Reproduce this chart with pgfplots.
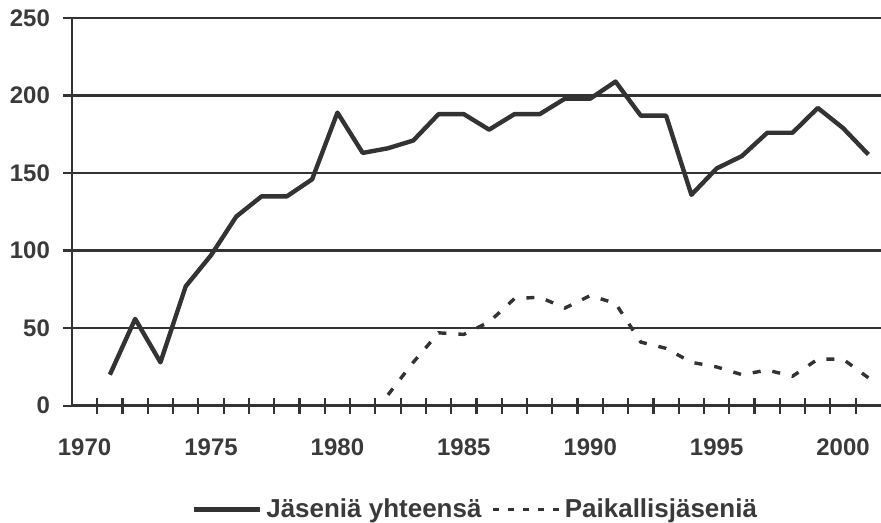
\documentclass[border=0pt]{standalone}
\usepackage{pgfplots}
\pgfplotsset{compat=1.18}
\usepackage{fontspec}
\setmainfont{Liberation Sans}
\definecolor{ink}{HTML}{333333}
\definecolor{txt}{HTML}{3A3A3A}
\begin{document}
\begin{tikzpicture}
\begin{axis}[
  scale only axis,
  width=404.8pt, height=194pt,
  xmin=1969.5, xmax=2001.5,
  ymin=0, ymax=250,
  axis lines*=left,
  axis line style={line width=1.4pt, color=ink, -},
  ytick={0,50,...,250},
  xtick={1970,1975,...,2000},
  minor xtick={1970.5,1971.5,...,2000.5},
  tick align=center,
  major tick length=9pt,
  minor tick length=8pt,
  major x tick style={draw=none},
  minor x tick style={line width=1.1pt, color=ink},
  major y tick style={line width=1.2pt, color=ink},
  ymajorgrids,
  major grid style={line width=1.2pt, color=ink},
  /pgf/number format/assume math mode=true,
  /pgf/number format/1000 sep={},
  ticklabel style={font=\bfseries\fontsize{12}{14}\selectfont, color=txt},
  xticklabel style={yshift=-8.5pt},
  yticklabel style={xshift=-3pt},
  legend style={at={(0.5,-0.268)}, anchor=center, draw=none, fill=none,
    font=\bfseries\fontsize{13}{15}\selectfont, text=txt,
    legend columns=2,
    /tikz/every even column/.append style={column sep=3pt},
    inner sep=0pt},
  legend image code/.code={\draw[#1] (0pt,0pt) -- (33pt,0pt);},
]
\addplot[color=ink, line width=2.2pt, line join=round] coordinates {
(1971,20) (1972,56) (1973,28) (1974,77) (1975,97) (1976,122) (1977,135)
(1978,135) (1979,146) (1980,189) (1981,163) (1982,166) (1983,171)
(1984,188) (1985,188) (1986,178) (1987,188) (1988,188) (1989,198)
(1990,198) (1991,209) (1992,187) (1993,187) (1994,136) (1995,153)
(1996,161) (1997,176) (1998,176) (1999,192) (2000,179) (2001,162)
};
\addlegendentry{Jäseniä yhteensä}
\addplot[color=ink, line width=1.7pt, dash pattern=on 4pt off 6pt,
  legend image post style={dash pattern=on 3pt off 4.5pt}] coordinates {
(1982,7) (1983,28) (1984,47) (1985,46) (1986,54) (1987,69) (1988,70)
(1989,63) (1990,71) (1991,66) (1992,41) (1993,37) (1994,28) (1995,25)
(1996,20) (1997,23) (1998,19) (1999,30) (2000,30) (2001,18)
};
\addlegendentry{Paikallisjäseniä}
\end{axis}
\pgfresetboundingbox
\path[use as bounding box] ([xshift=-36pt,yshift=-58.5pt]current axis.south west) rectangle ([yshift=9pt]current axis.north east);
\end{tikzpicture}
\end{document}
